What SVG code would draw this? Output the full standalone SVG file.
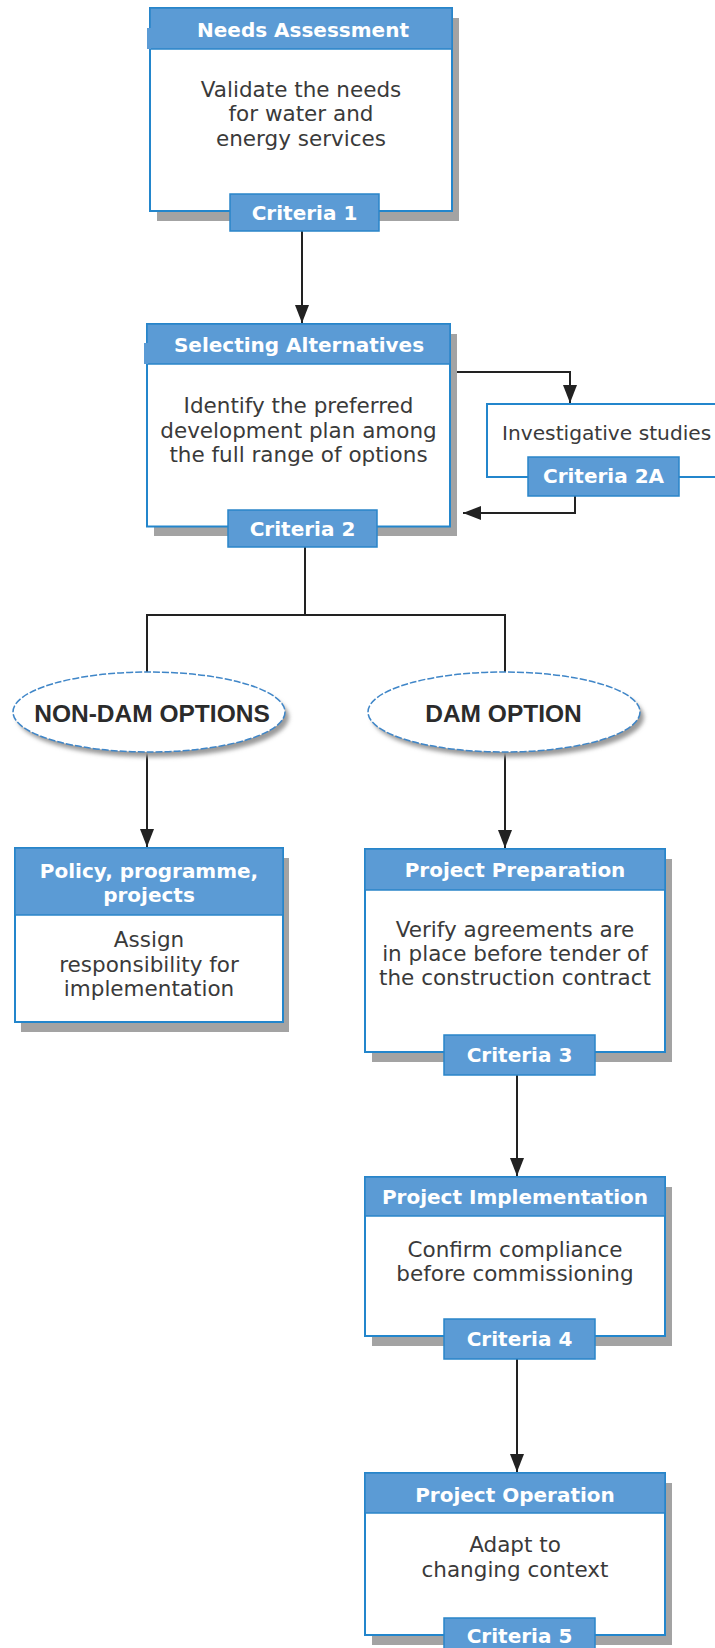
<svg xmlns="http://www.w3.org/2000/svg" width="715" height="1648" viewBox="0 0 715 1648">
<style>
.shadow{fill:#a3a3a3}
.box{fill:#ffffff;stroke:#2386cc;stroke-width:2}
.head{fill:#5b9bd5;stroke:#2a85c9;stroke-width:1.5}
.tab{fill:#5b9bd5;stroke:#2a85c9;stroke-width:1.5}
.title{font-family:"DejaVu Sans",sans-serif;font-weight:bold;font-size:20px;fill:#ffffff;text-anchor:middle}
.body{font-family:"DejaVu Sans",sans-serif;font-size:21.5px;fill:#3a3a3a;text-anchor:middle}
.crit{font-family:"DejaVu Sans",sans-serif;font-weight:bold;font-size:20px;fill:#ffffff;text-anchor:middle}
.oval{fill:#ffffff;stroke:#3f86c8;stroke-width:1.5;stroke-dasharray:7 2}
.ovalsh{fill:#9a9a9a;filter:url(#blur)}
.otext{font-family:"Liberation Sans",Arial,sans-serif;font-weight:bold;font-size:24.5px;fill:#2b2b2b;text-anchor:middle}
.conn{fill:none;stroke:#222222;stroke-width:2}
</style>
<defs>
<marker id="arr" viewBox="0 0 18 14" refX="18" refY="7" markerWidth="18" markerHeight="14" markerUnits="userSpaceOnUse" orient="auto">
<path d="M0,0 L18,7 L0,14 z" fill="#222222"/>
</marker>
<filter id="blur" x="-10%" y="-20%" width="120%" height="140%"><feGaussianBlur stdDeviation="2"/></filter>
</defs>

<g id="connectors">
<path class="conn" d="M302 231 V323" marker-end="url(#arr)"/>
<path class="conn" d="M450 372 H570 V403" marker-end="url(#arr)"/>
<path class="conn" d="M575 496 V513 H463" marker-end="url(#arr)"/>
<path class="conn" d="M305 547 V615"/>
<path class="conn" d="M147 672 V615 H505 V672"/>
<path class="conn" d="M147 752 V847" marker-end="url(#arr)"/>
<path class="conn" d="M505 752 V848" marker-end="url(#arr)"/>
<path class="conn" d="M517 1075 V1176" marker-end="url(#arr)"/>
<path class="conn" d="M517 1359 V1472" marker-end="url(#arr)"/>
</g>

<g id="needs-assessment">
<rect class="shadow" x="157" y="18" width="302" height="203"/>
<rect class="box" x="150" y="8" width="302" height="203"/>
<rect class="head" x="150" y="8" width="302" height="41"/>
<rect x="147" y="28" width="4" height="21" fill="#5b9bd5"/>
<text class="title" x="303" y="37">Needs Assessment</text>
<text class="body" x="301" y="96.5">Validate the needs</text>
<text class="body" x="301" y="121">for water and</text>
<text class="body" x="301" y="145.5">energy services</text>
<rect class="tab" x="230" y="194" width="149" height="37"/>
<text class="crit" x="304.5" y="220">Criteria 1</text>
</g>

<g id="selecting-alternatives">
<rect class="shadow" x="154" y="334" width="303" height="202"/>
<rect class="box" x="147" y="324" width="303" height="202.5"/>
<rect class="head" x="147" y="324" width="303" height="40"/>
<rect x="144" y="343" width="4" height="21" fill="#5b9bd5"/>
<text class="title" x="299" y="352">Selecting Alternatives</text>
<text class="body" x="298.5" y="413">Identify the preferred</text>
<text class="body" x="298.5" y="437.5">development plan among</text>
<text class="body" x="298.5" y="462">the full range of options</text>
<rect class="tab" x="228" y="510" width="149" height="37"/>
<text class="crit" x="302.5" y="536">Criteria 2</text>
</g>

<g id="investigative-studies">
<rect class="box" x="487" y="404" width="260" height="73"/>
<text class="body" x="502" y="440" style="text-anchor:start;font-size:20.2px">Investigative studies</text>
<rect class="tab" x="528" y="457" width="151" height="39"/>
<text class="crit" x="603.5" y="483">Criteria 2A</text>
</g>

<g id="non-dam-options">
<ellipse class="ovalsh" cx="153" cy="717" rx="136" ry="40"/>
<ellipse class="oval" cx="149" cy="712" rx="136" ry="40"/>
<text class="otext" x="152" y="722">NON-DAM OPTIONS</text>
</g>

<g id="dam-option">
<ellipse class="ovalsh" cx="508" cy="717" rx="136" ry="40"/>
<ellipse class="oval" cx="504" cy="712" rx="136" ry="40"/>
<text class="otext" x="503.5" y="722">DAM OPTION</text>
</g>

<g id="policy-programme-projects">
<rect class="shadow" x="21" y="858" width="268" height="174"/>
<rect class="box" x="15" y="848" width="268" height="174"/>
<rect class="head" x="15" y="848" width="268" height="67"/>
<text class="title" x="149" y="878">Policy, programme,</text>
<text class="title" x="149" y="902">projects</text>
<text class="body" x="149" y="947">Assign</text>
<text class="body" x="149" y="971.5">responsibility for</text>
<text class="body" x="149" y="996">implementation</text>
</g>

<g id="project-preparation">
<rect class="shadow" x="372" y="859" width="300" height="203"/>
<rect class="box" x="365" y="849" width="300" height="203"/>
<rect class="head" x="365" y="849" width="300" height="41"/>
<text class="title" x="515" y="877">Project Preparation</text>
<text class="body" x="515" y="937">Verify agreements are</text>
<text class="body" x="515" y="961">in place before tender of</text>
<text class="body" x="515" y="985">the construction contract</text>
<rect class="tab" x="444" y="1035" width="151" height="40"/>
<text class="crit" x="519.5" y="1062">Criteria 3</text>
</g>

<g id="project-implementation">
<rect class="shadow" x="372" y="1187" width="300" height="159"/>
<rect class="box" x="365" y="1177" width="300" height="159"/>
<rect class="head" x="365" y="1177" width="300" height="39"/>
<text class="title" x="515" y="1204">Project Implementation</text>
<text class="body" x="515" y="1257">Confirm compliance</text>
<text class="body" x="515" y="1281">before commissioning</text>
<rect class="tab" x="444" y="1319" width="151" height="40"/>
<text class="crit" x="519.5" y="1346">Criteria 4</text>
</g>

<g id="project-operation">
<rect class="shadow" x="372" y="1483" width="300" height="162"/>
<rect class="box" x="365" y="1473" width="300" height="162"/>
<rect class="head" x="365" y="1473" width="300" height="40"/>
<text class="title" x="515" y="1502">Project Operation</text>
<text class="body" x="515" y="1552">Adapt to</text>
<text class="body" x="515" y="1577">changing context</text>
<rect class="tab" x="444" y="1618" width="151" height="40"/>
<text class="crit" x="519.5" y="1643">Criteria 5</text>
</g>
</svg>
